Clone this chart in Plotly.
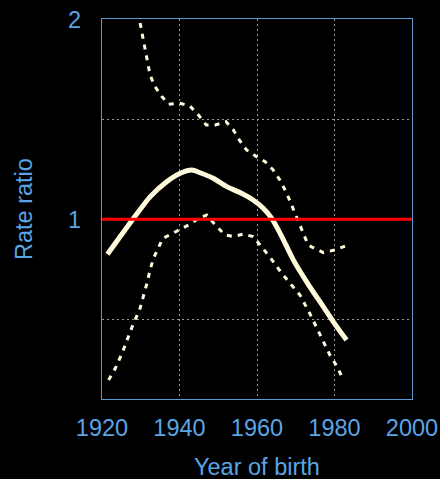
import math
import plotly.graph_objects as go

# Estimated rate ratio curve (cohort effect) and 95% confidence limits
years_est = [1921.4, 1924.7, 1928.1, 1932.4, 1936.7, 1940.2, 1943.2, 1945.3, 1948.7,
             1952.2, 1955.6, 1959.0, 1961.6, 1963.8, 1966.4, 1969.4, 1973.6, 1977.1,
             1979.7, 1983.1]
rr_est = [0.886, 0.942, 1.003, 1.081, 1.139, 1.173, 1.186, 1.175, 1.153,
          1.120, 1.097, 1.069, 1.039, 1.003, 0.942, 0.868, 0.792, 0.739,
          0.701, 0.658]

years_hi = [1929.3, 1930.3, 1931.2, 1932.4, 1933.7, 1935.5, 1937.2, 1940.0, 1942.6,
            1944.9, 1946.9, 1949.2, 1952.0, 1953.9, 1955.6, 1957.3, 1959.9, 1962.1,
            1964.2, 1965.9, 1967.6, 1968.9, 1971.1, 1973.2, 1974.1, 1977.1, 1980.1,
            1983.1]
rr_hi = [2.05, 1.916, 1.788, 1.649, 1.583, 1.529, 1.490, 1.495, 1.483,
         1.435, 1.387, 1.387, 1.402, 1.363, 1.312, 1.272, 1.242, 1.221,
         1.186, 1.146, 1.097, 1.051, 0.975, 0.915, 0.909, 0.891, 0.899,
         0.913]

years_lo = [1921.7, 1923.4, 1925.2, 1926.4, 1928.1, 1929.7, 1930.7, 1931.6, 1932.4,
            1933.3, 1935.7, 1939.7, 1942.3, 1944.9, 1947.0, 1949.6, 1951.8, 1953.9,
            1956.5, 1959.0, 1961.2, 1963.3, 1966.4, 1968.9, 1971.1, 1973.6, 1976.2,
            1978.8, 1980.7, 1982.1]
rr_lo = [0.573, 0.596, 0.629, 0.658, 0.697, 0.730, 0.765, 0.801, 0.839,
         0.874, 0.936, 0.964, 0.980, 1.003, 1.015, 0.975, 0.947, 0.942,
         0.950, 0.942, 0.909, 0.878, 0.829, 0.796, 0.769, 0.722, 0.670,
         0.625, 0.600, 0.576]

x_ticks = [1920, 1940, 1960, 1980, 2000]
y_ticks = [2 ** -0.5, 1, 2 ** 0.5, 2]
y_tick_text = ["", "1", "", "2"]
ref_x = [1920, 2000]
ref_y = [1, 1]

BLUE = "#5aa5e6"
FRAME = "#5b9bd5"
CREAM = "#fffadc"
FS = 23.5

fig = go.Figure()
fig.add_trace(go.Scatter(x=years_hi, y=rr_hi, mode="lines",
                         line=dict(color=CREAM, width=3, dash="5px,6px"),
                         hoverinfo="skip"))
fig.add_trace(go.Scatter(x=years_lo, y=rr_lo, mode="lines",
                         line=dict(color=CREAM, width=3, dash="5px,6px"),
                         hoverinfo="skip"))
fig.add_trace(go.Scatter(x=years_est, y=rr_est, mode="lines",
                         line=dict(color=CREAM, width=5, shape="spline", smoothing=0.6),
                         hoverinfo="skip"))
fig.add_trace(go.Scatter(x=ref_x, y=ref_y, mode="lines",
                         line=dict(color="#ff0000", width=3),
                         hoverinfo="skip"))

font_family = "Liberation Sans, Arial, sans-serif"

fig.update_layout(
    width=440, height=479,
    paper_bgcolor="black", plot_bgcolor="black",
    margin=dict(l=102, r=28, t=19, b=80, pad=0),
    showlegend=False,
    font=dict(family=font_family, size=FS, color=BLUE),
    xaxis=dict(
        range=[1920, 2000], tickvals=x_ticks, ticktext=[str(v) for v in x_ticks],
        showgrid=True, gridcolor="#9a9a9a", gridwidth=1, griddash="2px,3px",
        showline=True, mirror=True, linecolor=FRAME, linewidth=1.3,
        zeroline=False, ticks="", ticklabelstandoff=8, automargin=False,
        tickfont=dict(size=FS, color=BLUE),
    ),
    yaxis=dict(
        type="log",
        range=[math.log10(2 ** -0.8985), math.log10(2 ** 1.0015)],
        tickvals=y_ticks, ticktext=y_tick_text,
        showgrid=True, gridcolor="#9a9a9a", gridwidth=1, griddash="2px,3px",
        showline=True, mirror=True, linecolor=FRAME, linewidth=1.3,
        zeroline=False, ticks="", ticklabelstandoff=15, automargin=False,
        tickfont=dict(size=FS, color=BLUE),
    ),
    annotations=[
        dict(text="Year of birth", xref="paper", yref="paper", x=0.5, y=-0.178,
             showarrow=False, xanchor="center", yanchor="middle",
             font=dict(size=FS, color=BLUE)),
        dict(text="Rate ratio", xref="paper", yref="paper", x=-0.2516, y=0.5,
             showarrow=False, xanchor="center", yanchor="middle", textangle=-90,
             font=dict(size=FS, color=BLUE)),
    ],
)

fig.write_html("out.html")
